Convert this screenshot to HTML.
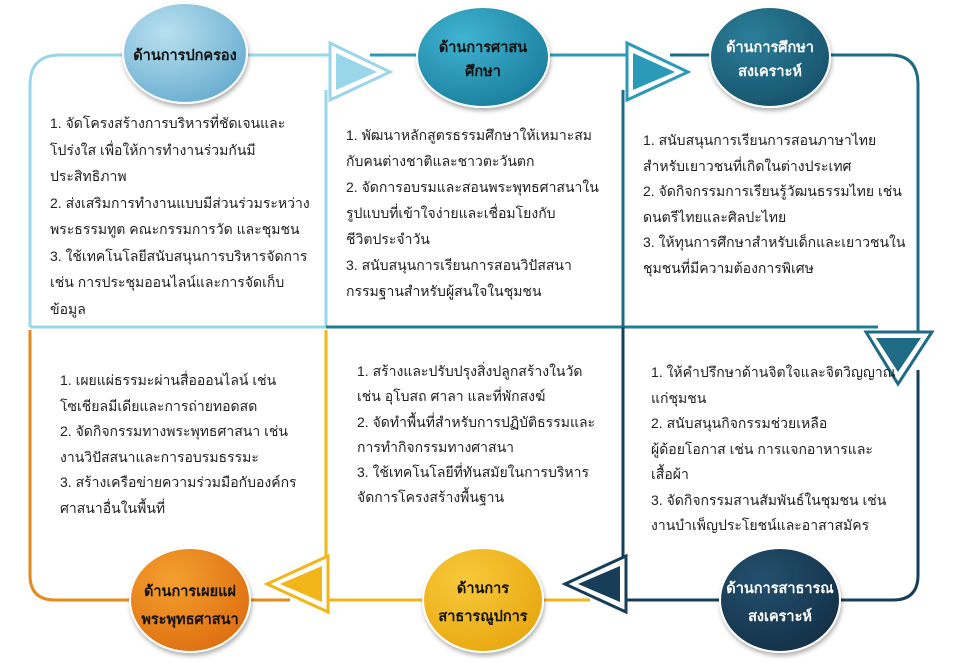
<!DOCTYPE html>
<html><head><meta charset="utf-8"><style>
html,body{margin:0;padding:0;background:#fff;width:966px;height:671px;overflow:hidden;position:relative;font-family:"Liberation Sans","Noto Sans CJK SC",sans-serif;}
svg{position:absolute;left:0;top:0}
.t{position:absolute;white-space:nowrap;font-size:14px;color:#222;}
.c{position:absolute;white-space:nowrap;font-size:14.5px;font-weight:bold;text-align:center;}
</style></head><body>
<svg width="966" height="671" viewBox="0 0 966 671">
<defs>
<radialGradient id="g1" cx="35%" cy="30%" r="75%"><stop offset="0" stop-color="#b9e0f0"/><stop offset="1" stop-color="#6aaed0"/></radialGradient>
<radialGradient id="g2" cx="35%" cy="30%" r="75%"><stop offset="0" stop-color="#3fb3d0"/><stop offset="1" stop-color="#1c7f9f"/></radialGradient>
<radialGradient id="g3" cx="35%" cy="30%" r="75%"><stop offset="0" stop-color="#2c7e99"/><stop offset="1" stop-color="#17536c"/></radialGradient>
<radialGradient id="g4" cx="35%" cy="30%" r="75%"><stop offset="0" stop-color="#f4a030"/><stop offset="1" stop-color="#de6f10"/></radialGradient>
<radialGradient id="g5" cx="35%" cy="30%" r="75%"><stop offset="0" stop-color="#f7c93a"/><stop offset="1" stop-color="#e9a812"/></radialGradient>
<radialGradient id="g6" cx="35%" cy="30%" r="75%"><stop offset="0" stop-color="#24506e"/><stop offset="1" stop-color="#143148"/></radialGradient>
<filter id="sh" x="-20%" y="-20%" width="140%" height="140%"><feDropShadow dx="1" dy="3" stdDeviation="2" flood-color="#000" flood-opacity="0.3"/></filter>
</defs>
<path d="M326 327 L326 90 M30 327 L30 85 Q30 55 60 55 L330 55" fill="none" stroke="#9ad6ea" stroke-width="3"/>
<line x1="30" y1="327" x2="326" y2="327" stroke="#9ad6ea" stroke-width="3"/>
<line x1="370" y1="55" x2="630" y2="55" stroke="#2a9ab8" stroke-width="3"/>
<line x1="326" y1="327" x2="878" y2="327" stroke="#1f7d9a" stroke-width="3"/>
<line x1="623" y1="90" x2="623" y2="560" stroke="#1f6a85" stroke-width="3"/>
<path d="M670 55 L890 55 Q918 55 918 85 L918 335" fill="none" stroke="#1f6a85" stroke-width="3"/>
<path d="M918 370 L918 575 Q918 600 893 600 L620 600" fill="none" stroke="#173d58" stroke-width="3"/>
<line x1="623" y1="327" x2="623" y2="560" stroke="#173d58" stroke-width="3"/>
<line x1="326" y1="330" x2="326" y2="560" stroke="#f2b51a" stroke-width="3"/>
<line x1="300" y1="600" x2="590" y2="600" stroke="#f2b51a" stroke-width="3"/>
<path d="M30 330 L30 575 Q30 600 55 600 L290 600" fill="none" stroke="#e8891e" stroke-width="3"/>
<!-- arrows -->
<polygon points="330,43 330,100 390,72" fill="#fff" stroke="#9ad6ea" stroke-width="3"/>
<polygon points="336,53 336,90 377,72" fill="#9ad6ea"/>
<polygon points="627,43 627,100 688,72" fill="#fff" stroke="#2a9ab8" stroke-width="3"/>
<polygon points="633,53 633,90 675,72" fill="#2a9ab8"/>
<polygon points="866,332 932,332 898,384" fill="#fff" stroke="#1f6a85" stroke-width="3"/>
<polygon points="876,338 921,338 898,372" fill="#1f6a85"/>
<polygon points="626,556 626,612 565,584" fill="#fff" stroke="#173d58" stroke-width="3"/>
<polygon points="620,566 620,602 578,584" fill="#173d58"/>
<polygon points="328,556 328,612 267,584" fill="#fff" stroke="#f2b51a" stroke-width="3"/>
<polygon points="322,566 322,602 280,584" fill="#f2b51a"/>
<ellipse cx="185" cy="53" rx="62" ry="50" fill="url(#g1)" stroke="#fff" stroke-width="2" filter="url(#sh)"/>
<ellipse cx="483" cy="57" rx="66" ry="50" fill="url(#g2)" stroke="#fff" stroke-width="2" filter="url(#sh)"/>
<ellipse cx="770" cy="57" rx="60" ry="50" fill="url(#g3)" stroke="#fff" stroke-width="2" filter="url(#sh)"/>
<ellipse cx="190" cy="600" rx="60" ry="52" fill="url(#g4)" stroke="#fff" stroke-width="2" filter="url(#sh)"/>
<ellipse cx="483" cy="600" rx="60" ry="52" fill="url(#g5)" stroke="#fff" stroke-width="2" filter="url(#sh)"/>
<ellipse cx="780" cy="600" rx="60" ry="52" fill="url(#g6)" stroke="#fff" stroke-width="2" filter="url(#sh)"/>
</svg>
<div class="c" style="left:120px;top:44px;width:130px;color:#111">ด้านการปกครอง</div>
<div class="c" style="left:418px;top:36px;width:130px;color:#111;line-height:24px">ด้านการศาสน<br>ศึกษา</div>
<div class="c" style="left:705px;top:36px;width:130px;color:#fff;line-height:24px">ด้านการศึกษา<br>สงเคราะห์</div>
<div class="c" style="left:125px;top:578px;width:130px;color:#111;line-height:28px">ด้านการเผยแผ่<br>พระพุทธศาสนา</div>
<div class="c" style="left:418px;top:575px;width:130px;color:#111;line-height:28px">ด้านการ<br>สาธารณูปการ</div>
<div class="c" style="left:715px;top:575px;width:130px;color:#fff;line-height:28px">ด้านการสาธารณ<br>สงเคราะห์</div>

<div class="t" style="left:50px;top:110px;line-height:26.5px">1. จัดโครงสร้างการบริหารที่ชัดเจนและ<br>โปร่งใส เพื่อให้การทำงานร่วมกันมี<br>ประสิทธิภาพ<br>2. ส่งเสริมการทำงานแบบมีส่วนร่วมระหว่าง<br>พระธรรมทูต คณะกรรมการวัด และชุมชน<br>3. ใช้เทคโนโลยีสนับสนุนการบริหารจัดการ<br>เช่น การประชุมออนไลน์และการจัดเก็บ<br>ข้อมูล</div>
<div class="t" style="left:346px;top:122px;line-height:26px">1. พัฒนาหลักสูตรธรรมศึกษาให้เหมาะสม<br>กับคนต่างชาติและชาวตะวันตก<br>2. จัดการอบรมและสอนพระพุทธศาสนาใน<br>รูปแบบที่เข้าใจง่ายและเชื่อมโยงกับ<br>ชีวิตประจำวัน<br>3. สนับสนุนการเรียนการสอนวิปัสสนา<br>กรรมฐานสำหรับผู้สนใจในชุมชน</div>
<div class="t" style="left:643px;top:128px;line-height:25.5px">1. สนับสนุนการเรียนการสอนภาษาไทย<br>สำหรับเยาวชนที่เกิดในต่างประเทศ<br>2. จัดกิจกรรมการเรียนรู้วัฒนธรรมไทย เช่น<br>ดนตรีไทยและศิลปะไทย<br>3. ให้ทุนการศึกษาสำหรับเด็กและเยาวชนใน<br>ชุมชนที่มีความต้องการพิเศษ</div>
<div class="t" style="left:60px;top:368px;line-height:25.5px">1. เผยแผ่ธรรมะผ่านสื่อออนไลน์ เช่น<br>โซเชียลมีเดียและการถ่ายทอดสด<br>2. จัดกิจกรรมทางพระพุทธศาสนา เช่น<br>งานวิปัสสนาและการอบรมธรรมะ<br>3. สร้างเครือข่ายความร่วมมือกับองค์กร<br>ศาสนาอื่นในพื้นที่</div>
<div class="t" style="left:357px;top:359px;line-height:25.3px">1. สร้างและปรับปรุงสิ่งปลูกสร้างในวัด<br>เช่น อุโบสถ ศาลา และที่พักสงฆ์<br>2. จัดทำพื้นที่สำหรับการปฏิบัติธรรมและ<br>การทำกิจกรรมทางศาสนา<br>3. ใช้เทคโนโลยีที่ทันสมัยในการบริหาร<br>จัดการโครงสร้างพื้นฐาน</div>
<div class="t" style="left:651px;top:360px;line-height:25.5px">1. ให้คำปรึกษาด้านจิตใจและจิตวิญญาณ<br>แก่ชุมชน<br>2. สนับสนุนกิจกรรมช่วยเหลือ<br>ผู้ด้อยโอกาส เช่น การแจกอาหารและ<br>เสื้อผ้า<br>3. จัดกิจกรรมสานสัมพันธ์ในชุมชน เช่น<br>งานบำเพ็ญประโยชน์และอาสาสมัคร</div>
</body></html>
